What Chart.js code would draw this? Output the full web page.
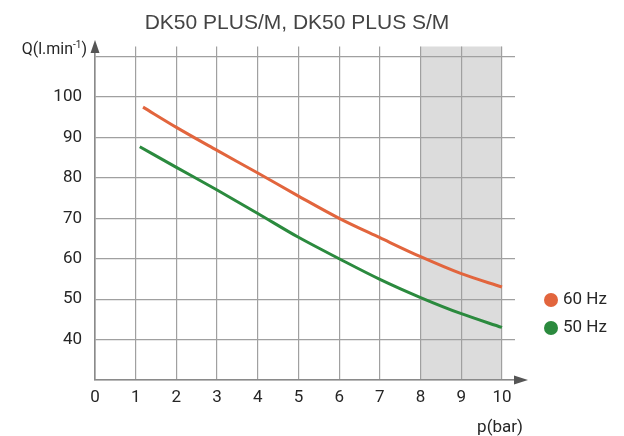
<!DOCTYPE html>
<html lang="en">
<head>
    <meta charset="UTF-8">
    <title>DK50 PLUS/M, DK50 PLUS S/M</title>
    <script src="https://cdn.jsdelivr.net/npm/chart.js@4.4.1/dist/chart.umd.min.js"></script>
    <style>
        html, body { margin: 0; padding: 0; background: #fff; }
        #wrap { width: 624px; height: 436px; position: relative; }
    </style>
</head>
<body>
    <div id="wrap"><canvas id="flowChart"></canvas></div>

    <script>
        // values
        const pressure60 = [1.18, 2, 3, 4, 5, 6, 7, 8, 9, 10];
        const flow60 = [97.5, 92.5, 86.8, 81.2, 75.5, 70, 65.2, 60.5, 56.3, 53];
        const pressure50 = [1.1, 2, 3, 4, 5, 6, 7, 8, 9, 10];
        const flow50 = [87.7, 82.6, 77, 71.2, 65.3, 60, 54.9, 50.4, 46.4, 43];
        const seriesLabels = ['60 Hz', '50 Hz'];
        const seriesColors = ['#e2653d', '#2b8a3e'];
        const xTicks = [0, 1, 2, 3, 4, 5, 6, 7, 8, 9, 10];
        const yTicks = [40, 50, 60, 70, 80, 90, 100];
        const shadedRange = [8, 10];

        const labelFont = "Roboto, 'Noto Sans', sans-serif";
        const labelColor = '#262626';

        const decorPlugin = {
            id: 'decor',
            beforeDraw(chart) {
                const ctx = chart.ctx;
                const area = chart.chartArea;
                const x = chart.scales.x;
                const x0 = x.getPixelForValue(shadedRange[0]);
                const x1 = x.getPixelForValue(shadedRange[1]);
                ctx.save();
                ctx.fillStyle = '#dcdcdc';
                ctx.fillRect(x0, area.top, x1 - x0, area.bottom - area.top);
                ctx.restore();
            },
            afterDraw(chart) {
                const ctx = chart.ctx;
                const area = chart.chartArea;
                ctx.save();

                // title
                ctx.fillStyle = '#444';
                ctx.font = "21px 'Liberation Sans', Arial, sans-serif";
                ctx.textAlign = 'center';
                ctx.textBaseline = 'middle';
                ctx.fillText('DK50 PLUS/M, DK50 PLUS S/M', 297, 23);

                // axis arrows
                ctx.fillStyle = '#555';
                ctx.beginPath();
                ctx.moveTo(area.left, 40);
                ctx.lineTo(area.left - 4.5, 53);
                ctx.lineTo(area.left + 4.5, 53);
                ctx.closePath();
                ctx.fill();
                ctx.beginPath();
                ctx.moveTo(528, area.bottom);
                ctx.lineTo(514, area.bottom - 4.5);
                ctx.lineTo(514, area.bottom + 4.5);
                ctx.closePath();
                ctx.fill();

                // axis titles
                ctx.fillStyle = labelColor;
                ctx.textBaseline = 'middle';
                ctx.textAlign = 'right';
                ctx.font = '16px ' + labelFont;
                ctx.fillText(')', 87, 50);
                const wClose = ctx.measureText(')').width;
                ctx.font = '10px ' + labelFont;
                ctx.fillText('-1', 87 - wClose, 45);
                const wSup = ctx.measureText('-1').width;
                ctx.font = '16px ' + labelFont;
                ctx.fillText('Q(l.min', 87 - wClose - wSup, 50);

                ctx.textAlign = 'center';
                ctx.font = '17px ' + labelFont;
                ctx.fillText('p(bar)', 500, 428);

                // legend
                seriesLabels.forEach((label, i) => {
                    const cy = 300 + i * 28;
                    ctx.fillStyle = seriesColors[i];
                    ctx.beginPath();
                    ctx.arc(551, cy, 7, 0, Math.PI * 2);
                    ctx.fill();
                    ctx.fillStyle = labelColor;
                    ctx.textAlign = 'left';
                    ctx.font = '17px ' + labelFont;
                    ctx.fillText(label, 563, cy);
                });
                ctx.restore();
            }
        };

        const ctx = document.getElementById('flowChart').getContext('2d');
        new Chart(ctx, {
            type: 'scatter',
            data: {
                datasets: [
                    {
                        label: seriesLabels[0],
                        data: pressure60.map((p, i) => ({ x: p, y: flow60[i] })),
                        borderColor: seriesColors[0],
                        backgroundColor: seriesColors[0],
                        showLine: true,
                        borderWidth: 3,
                        pointRadius: 0,
                        cubicInterpolationMode: 'monotone'
                    },
                    {
                        label: seriesLabels[1],
                        data: pressure50.map((p, i) => ({ x: p, y: flow50[i] })),
                        borderColor: seriesColors[1],
                        backgroundColor: seriesColors[1],
                        showLine: true,
                        borderWidth: 3,
                        pointRadius: 0,
                        cubicInterpolationMode: 'monotone'
                    }
                ]
            },
            options: {
                responsive: true,
                maintainAspectRatio: false,
                animation: false,
                devicePixelRatio: 1,
                layout: { padding: { top: 46.5, right: 109, bottom: 0, left: 0 } },
                plugins: {
                    legend: { display: false },
                    title: { display: false },
                    tooltip: { enabled: false }
                },
                scales: {
                    x: {
                        type: 'linear',
                        min: 0,
                        max: 10.32,
                        afterBuildTicks: s => { s.ticks = xTicks.map(v => ({ value: v })); },
                        afterFit: s => { s.height = 56; },
                        grid: { color: '#a0a0a0', lineWidth: 1.2, drawTicks: false },
                        border: { color: '#8a8a8a', width: 1.6 },
                        ticks: {
                            padding: 8,
                            color: labelColor,
                            font: { family: labelFont, size: 17 },
                            callback: v => String(v)
                        }
                    },
                    y: {
                        min: 30,
                        max: 112.5,
                        afterBuildTicks: s => {
                            s.ticks = [30].concat(yTicks, [110]).map(v => ({ value: v }));
                        },
                        afterFit: s => { s.width = 95; },
                        grid: { color: '#a0a0a0', lineWidth: 1.2, drawTicks: false },
                        border: { color: '#8a8a8a', width: 1.6 },
                        ticks: {
                            padding: 13,
                            color: labelColor,
                            font: { family: labelFont, size: 17 },
                            callback: v => yTicks.includes(v) ? String(v) : ''
                        }
                    }
                }
            },
            plugins: [decorPlugin]
        });
    </script>
</body>
</html>
